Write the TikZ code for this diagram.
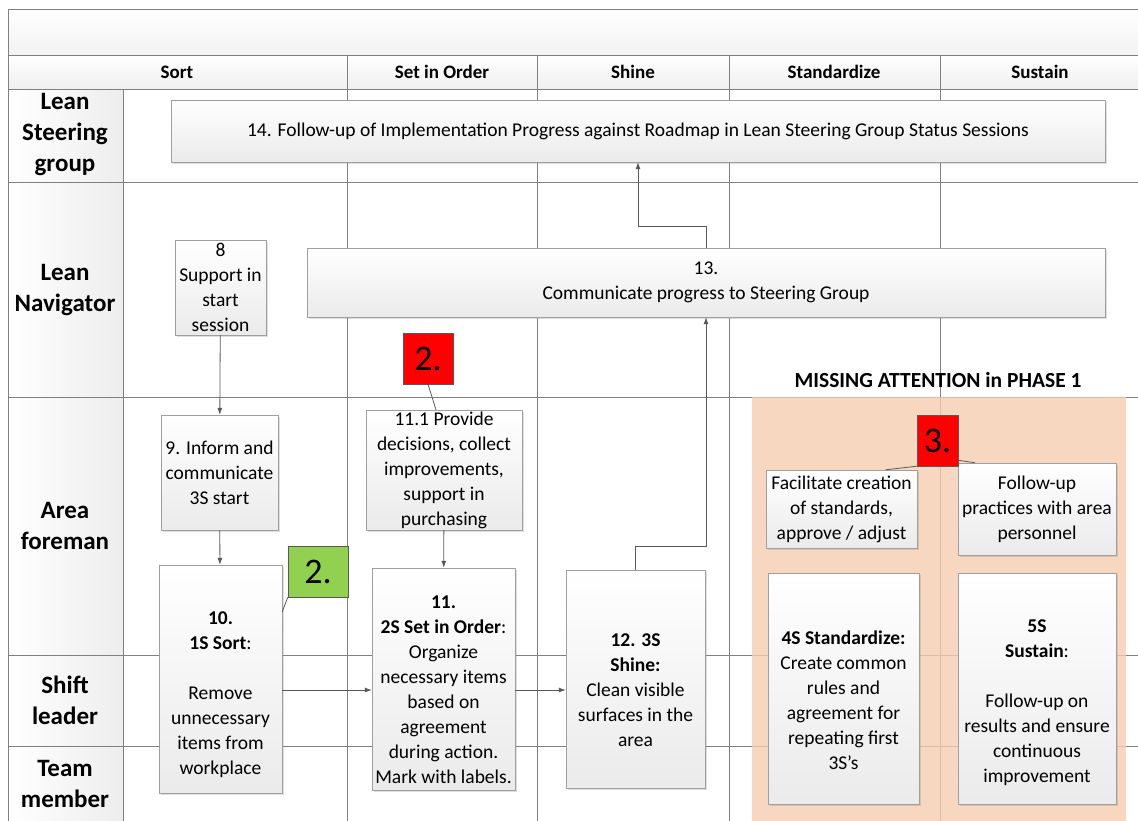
\documentclass[tikz,border=0pt]{standalone}
\usepackage{fontspec}
\setmainfont{Carlito}
\usetikzlibrary{arrows.meta,shadows}
\definecolor{gridgray}{HTML}{808080}
\definecolor{peach}{HTML}{F5CDB0}
\definecolor{flagred}{HTML}{FF0000}
\definecolor{flaggreen}{HTML}{92D050}
\newcommand{\lift}[1]{\rule{0pt}{#1}}
\tikzset{
  gridline/.style={draw=gridgray, line width=0.9pt},
  lanelabel/.style={align=center, font=\fontsize{25}{31}\selectfont\bfseries},
  phasehead/.style={font=\fontsize{19}{22}\selectfont\bfseries},
  stepbox/.style={draw=gray!75, top color=white, bottom color=gray!16,
    align=center, inner sep=1pt, font=\fontsize{19.5}{25}\selectfont,
    drop shadow={opacity=0.25, shadow xshift=1.5pt, shadow yshift=-1.5pt}},
  flagbox/.style={draw=gray!70!black, inner sep=0pt,
    font=\fontsize{36}{40}\selectfont},
  flow/.style={draw=gray!70!black, line width=0.8pt, -{Latex[length=7pt,width=5pt]}},
  link/.style={draw=gray!70!black, line width=0.8pt}
}
\begin{document}
\begin{tikzpicture}[x=1pt,y=-1pt]
    \useasboundingbox (0,0) rectangle (1138,820);
    \clip (0,0) rectangle (1138,820);
    %title and phase header
    \draw[gridline, top color=white, bottom color=gray!10] (8,9) rectangle (1150,55);
    \draw[gridline, top color=white, bottom color=gray!12] (8,55) rectangle (1150,89);
    %lane label column
    \draw[gridline, left color=white, right color=gray!14] (8,89) rectangle (123,830);
    %lane lines
    \foreach \y in {182,397,655,746}
      \draw[gridline] (8,\y) -- (1150,\y);
    \draw[gridline] (123,89) -- (1150,89);
    %phase columns
    \foreach \x in {347,537,729,940}
      \draw[gridline] (\x,55) -- (\x,830);
    %phase names
    \node[phasehead] (hSort) at (177,72) {Sort};
    \node[phasehead] (hSet) at (442,72) {Set in Order};
    \node[phasehead] (hShine) at (633,72) {Shine};
    \node[phasehead] (hStd) at (834,72) {Standardize};
    \node[phasehead] (hSus) at (1040,72) {Sustain};
    %lane names
    \node[lanelabel] (lSteer) at (65,135) {Lean\\Steering\\group};
    \node[lanelabel] (lNav) at (65,290) {Lean\\Navigator};
    \node[lanelabel] (lArea) at (65,526) {Area\\foreman};
    \node[lanelabel] (lShift) at (65,700) {Shift\\leader};
    \node[lanelabel] (lTeam) at (65,784) {Team\\member};
    %missing attention area
    \fill[peach, opacity=0.8] (752,397) rectangle (1126,830);
    \node[phasehead, font=\fontsize{21.5}{24}\selectfont\bfseries] (missing) at (938,380)
      {MISSING ATTENTION in PHASE 1};
    %steps
    \node[stepbox, minimum width=934pt, minimum height=62pt] (s14) at (638,131)
      {14. Follow-up of Implementation Progress against Roadmap in Lean Steering Group Status Sessions};
    \node[stepbox, minimum width=798pt, minimum height=69pt] (s13) at (706,282.5)
      {13.\\Communicate progress to Steering Group};
    \node[stepbox, minimum width=91pt, minimum height=95pt] (s8) at (220.5,287.5)
      {8\\Support in\\start\\session};
    \node[stepbox, minimum width=117pt, minimum height=115pt] (s9) at (219.5,472.5)
      {9. Inform and\\communicate\\3S start};
    \node[stepbox, minimum width=123pt, minimum height=228pt] (s10) at (220.5,679)
      {\lift{44pt}\textbf{10.}\\\textbf{1S Sort}:\\[25pt]Remove\\unnecessary\\items from\\workplace};
    \node[stepbox, minimum width=156pt, minimum height=120pt] (s111) at (444,470)
      {11.1 Provide\\decisions, collect\\improvements,\\support in\\purchasing};
    \node[stepbox, minimum width=143pt, minimum height=222pt] (s11) at (443.5,679)
      {\lift{34pt}\textbf{11.}\\\textbf{2S Set in Order}:\\Organize\\necessary items\\based on\\agreement\\during action.\\Mark with labels.};
    \node[stepbox, minimum width=139pt, minimum height=218pt] (s12) at (635.5,679)
      {\lift{36pt}\textbf{12. 3S}\\\textbf{Shine:}\\Clean visible\\surfaces in the\\area};
    \node[stepbox, minimum width=151pt, minimum height=78pt] (sFac) at (841.5,509)
      {Facilitate creation\\of standards,\\approve / adjust};
    \node[stepbox, minimum width=158pt, minimum height=92pt] (sFol) at (1037,509)
      {Follow-up\\practices with area\\personnel};
    \node[stepbox, minimum width=151pt, minimum height=231pt] (s4S) at (843.5,688.5)
      {\lift{38pt}\textbf{4S Standardize:}\\Create common\\rules and\\agreement for\\repeating first\\3S’s};
    \node[stepbox, minimum width=158pt, minimum height=231pt] (s5S) at (1037,688.5)
      {\lift{42pt}\textbf{5S}\\\textbf{Sustain}:\\[25pt]Follow-up on\\results and ensure\\continuous\\improvement};
    %flags
    \node[flagbox, fill=flagred, minimum width=50pt, minimum height=51pt] (red2) at (428,358.5) {2.};
    \node[flagbox, fill=flaggreen, minimum width=60pt, minimum height=51pt] (green2) at (318,571.5) {2.};
    \node[flagbox, fill=flagred, minimum width=41pt, minimum height=51pt] (red3) at (937.5,440.5) {3.};
    %flow
    \draw[flow] (s8) -- (s9);
    \draw[flow] (s9) -- (s10);
    \draw[flow] (s111) -- (s11);
    \draw[flow] (s10.east |- 0,690) -- (s11.west |- 0,690);
    \draw[flow] (s11.east |- 0,690) -- (s12.west |- 0,690);
    \draw[flow] (s12.north) -- ++(0,-23) -| (s13.south);
    \draw[flow] (s13.north) -- ++(0,-21) -| (s14.south);
    %flag links
    \draw[link] (red2.south) -- ([xshift=-8pt]s111.north);
    \draw[link] (green2.south west) -- ([yshift=67pt]s10.east);
    \draw[link] (red3.south west) -- ([xshift=44pt]sFac.north);
    \draw[link] ([yshift=6pt]red3.south east) -- ([xshift=-62pt]sFol.north);
\end{tikzpicture}
\end{document}
